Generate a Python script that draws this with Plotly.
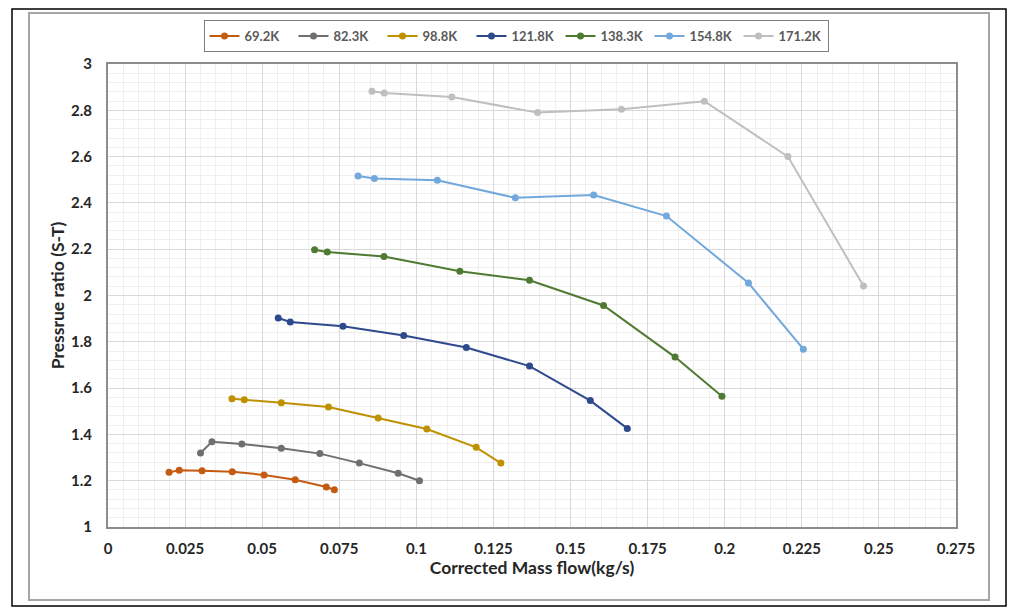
import plotly.graph_objects as go

OFF = 8                       # page body margin of the html page
W, H = 1023 - OFF, 608 - OFF
L, R, T, B = 108, 956, 64, 527   # plot area in screen pixels

TEXT = "#262626"
GRID = "#d9d9d9"
MINOR = "#efefef"

speeds = ["69.2K", "82.3K", "98.8K", "121.8K", "138.3K", "154.8K", "171.2K"]
colors = ["#c55a11", "#6f6f6f", "#bf9000", "#2e4a8c", "#4f7a32", "#72a8dc", "#bfbfbf"]

flow_692 = [0.0198, 0.0231, 0.0305, 0.0403, 0.0506, 0.0607, 0.0708, 0.0734]
pr_692 = [1.236, 1.245, 1.243, 1.239, 1.225, 1.204, 1.173, 1.161]

flow_823 = [0.0300, 0.0337, 0.0434, 0.0562, 0.0687, 0.0815, 0.0941, 0.1010]
pr_823 = [1.320, 1.368, 1.359, 1.340, 1.317, 1.276, 1.232, 1.200]

flow_988 = [0.0402, 0.0442, 0.0562, 0.0715, 0.0876, 0.1034, 0.1194, 0.1274]
pr_988 = [1.554, 1.550, 1.537, 1.518, 1.471, 1.423, 1.344, 1.276]

flow_1218 = [0.0552, 0.0591, 0.0762, 0.0959, 0.1162, 0.1367, 0.1564, 0.1684]
pr_1218 = [1.903, 1.886, 1.867, 1.827, 1.775, 1.695, 1.546, 1.426]

flow_1383 = [0.0670, 0.0711, 0.0895, 0.1141, 0.1367, 0.1607, 0.1839, 0.1991]
pr_1383 = [2.198, 2.188, 2.168, 2.105, 2.066, 1.957, 1.734, 1.565]

flow_1548 = [0.0811, 0.0864, 0.1068, 0.1321, 0.1575, 0.1811, 0.2077, 0.2255]
pr_1548 = [2.516, 2.505, 2.498, 2.422, 2.434, 2.343, 2.054, 1.768]

flow_1712 = [0.0856, 0.0896, 0.1115, 0.1393, 0.1665, 0.1934, 0.2205, 0.2450]
pr_1712 = [2.882, 2.875, 2.857, 2.790, 2.804, 2.839, 2.600, 2.041]

flows = [flow_692, flow_823, flow_988, flow_1218, flow_1383, flow_1548, flow_1712]
ratios = [pr_692, pr_823, pr_988, pr_1218, pr_1383, pr_1548, pr_1712]


def px(x):
    return (x - L) / (R - L)


def py(y):
    return (B - y) / (B - T)


fig = go.Figure()
for name, c, xs, ys in zip(speeds, colors, flows, ratios):
    fig.add_trace(go.Scatter(
        x=xs, y=ys, name=name, mode="lines+markers",
        line=dict(color=c, width=2),
        marker=dict(color=c, size=7),
    ))

FONT = "Lato, sans-serif"
tick_font = dict(family=FONT, size=15, color=TEXT, weight="bold")
title_font = dict(family=FONT, size=17.5, color=TEXT, weight="bold")

fig.update_layout(
    width=W, height=H,
    paper_bgcolor="white", plot_bgcolor="white",
    margin=dict(l=L - OFF, r=W + OFF - R, t=T - OFF, b=H + OFF - B),
    font=dict(family=FONT, color=TEXT),
    showlegend=True,
    legend=dict(
        orientation="h", x=px(516), xanchor="center", y=py(20), yanchor="top",
        bordercolor="#7f7f7f", borderwidth=1, bgcolor="white",
        font=dict(family=FONT, size=13, color="#595959", weight="bold"),
        itemwidth=30, entrywidth=44, tracegroupgap=0,
    ),
    xaxis=dict(
        range=[0, 0.275], dtick=0.025, tick0=0, tickformat="~g",
        showgrid=True, gridcolor=GRID, gridwidth=1,
        minor=dict(dtick=0.005, showgrid=True, gridcolor=MINOR),
        showline=True, linecolor="#8c8c8c", linewidth=2, mirror=True,
        zeroline=False, ticks="", tickfont=tick_font, ticklabelstandoff=7,
        title=dict(text="Corrected Mass flow(kg/s)", standoff=6, font=title_font),
    ),
    yaxis=dict(
        range=[1, 3], dtick=0.2, tick0=1, tickformat="~g",
        showgrid=True, gridcolor=GRID, gridwidth=1,
        minor=dict(dtick=0.04, showgrid=True, gridcolor=MINOR),
        showline=True, linecolor="#8c8c8c", linewidth=2, mirror=True,
        zeroline=False, ticks="", tickfont=tick_font, ticklabelstandoff=11,
        title=dict(text="Pressrue ratio (S-T)", standoff=2, font=title_font),
    ),
    shapes=[
        dict(type="rect", xref="paper", yref="paper",
             x0=px(12), x1=px(1006), y0=py(606), y1=py(9),
             line=dict(color="black", width=1.5), layer="below"),
        dict(type="rect", xref="paper", yref="paper",
             x0=px(29), x1=px(989), y0=py(600), y1=py(13),
             line=dict(color="#a6a6a6", width=2), layer="below"),
    ],
)

fig.write_html("out.html")
